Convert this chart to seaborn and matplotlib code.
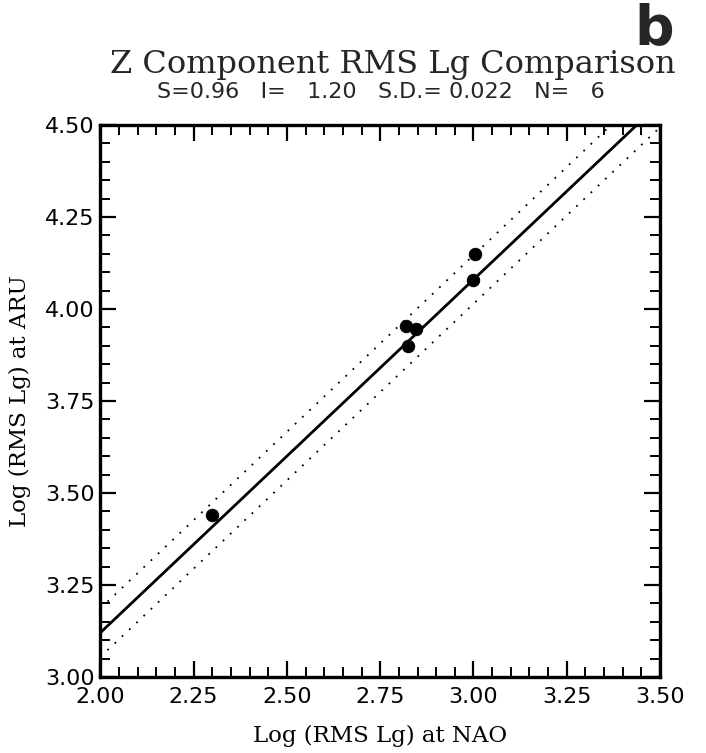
import numpy as np
import pandas as pd
import matplotlib
matplotlib.use("Agg")
import matplotlib.pyplot as plt
import seaborn as sns
from matplotlib.ticker import MultipleLocator, FormatStrFormatter

# station comparison: log RMS Lg at NAO (x) vs ARU (y)
nao = [2.30, 2.82, 2.845, 2.825, 3.00, 3.005]
aru = [3.44, 3.955, 3.945, 3.90, 4.08, 4.15]

slope = 0.96
intercept = 1.20
sd = 0.022
band = 3 * sd  # dotted lines at +/- 3 S.D.
line_x = [2.0, 3.5]

df = pd.DataFrame({"nao": nao, "aru": aru})
fit = pd.DataFrame({"x": line_x})
fit["y"] = slope * fit["x"] + intercept
fit["hi"] = fit["y"] + band
fit["lo"] = fit["y"] - band

sns.set_theme(style="ticks")
plt.rcParams['font.family'] = ['DejaVu Sans']

fig = plt.figure(figsize=(7.06, 7.53), dpi=100)
ax = fig.add_axes([0.142, 0.101, 0.793, 0.733])

sns.lineplot(data=fit, x="x", y="y", color="black", lw=2.0, ax=ax)
sns.lineplot(data=fit, x="x", y="hi", color="black", lw=1.3, ls=(0, (1, 4.5)), ax=ax)
sns.lineplot(data=fit, x="x", y="lo", color="black", lw=1.3, ls=(0, (1, 4.5)), ax=ax)
sns.scatterplot(data=df, x="nao", y="aru", color="black", s=80, edgecolor="black", zorder=5, ax=ax)

ax.set_xlim(2.0, 3.5)
ax.set_ylim(3.0, 4.5)
ax.xaxis.set_major_locator(MultipleLocator(0.25))
ax.xaxis.set_minor_locator(MultipleLocator(0.05))
ax.yaxis.set_major_locator(MultipleLocator(0.25))
ax.yaxis.set_minor_locator(MultipleLocator(0.05))
ax.xaxis.set_major_formatter(FormatStrFormatter('%.2f'))
ax.yaxis.set_major_formatter(FormatStrFormatter('%.2f'))

ax.tick_params(which="both", direction="in", top=True, right=True, color="black",
               labelsize=16, labelcolor="black")
ax.tick_params(which="major", length=11.5, width=1.6, pad=4)
ax.tick_params(which="minor", length=7, width=1.4)
ax.tick_params(axis="x", which="major", pad=7)
for sp in ax.spines.values():
    sp.set_linewidth(2.4)
    sp.set_color("black")

serif = ['DejaVu Serif']
ax.set_xlabel("Log (RMS Lg) at NAO", fontsize=16.5, family=serif, labelpad=13, color="black")
ax.set_ylabel("Log (RMS Lg) at ARU", fontsize=16.5, family=serif, labelpad=10, color="black")

fig.text(0.556, 0.903, "Z Component RMS Lg Comparison", ha="center", va="baseline",
         fontsize=23, family=serif)
fig.text(0.539, 0.870, "S=0.96   I=   1.20   S.D.= 0.022   N=   6", ha="center", va="baseline",
         fontsize=16)
fig.text(0.926, 0.941, "b", ha="center", va="baseline", fontsize=40, fontweight="bold")

fig.savefig("out.png", dpi=100)
plt.close(fig)
